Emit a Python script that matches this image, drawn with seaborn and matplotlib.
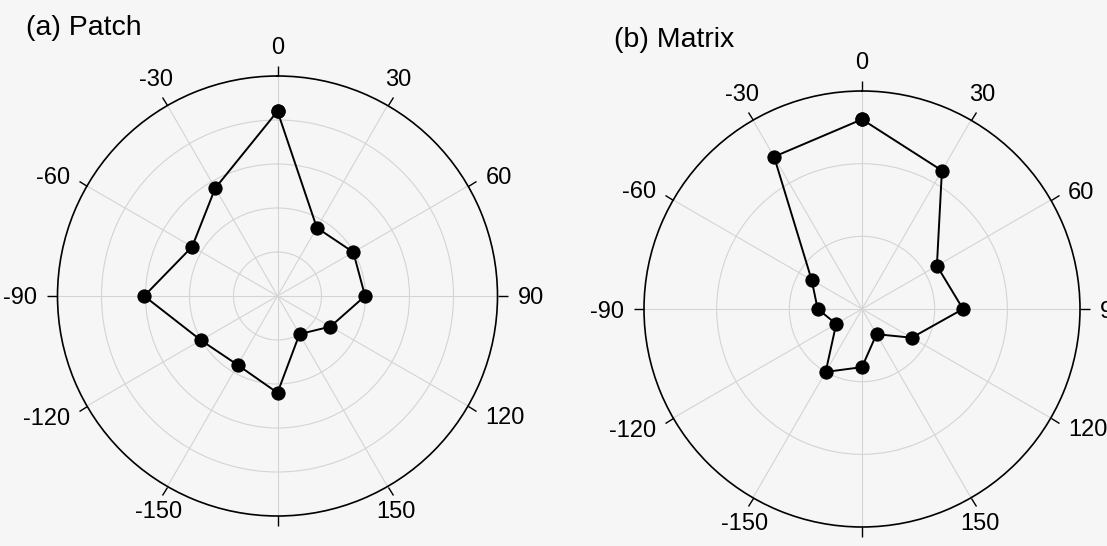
import numpy as np
import pandas as pd
import matplotlib
matplotlib.use("Agg")
import matplotlib.pyplot as plt
import seaborn as sns

# ---- data ----
angles_deg = [0, 30, 60, 90, 120, 150, 180, -150, -120, -90, -60, -30]
tick_labels = ["0", "30", "60", "90", "120", "150", "", "-150", "-120", "-90", "-60", "-30"]
patch_values = [4.2, 1.79, 1.99, 1.99, 1.39, 1.0, 2.2, 1.81, 2.01, 3.03, 2.24, 2.83]
matrix_values = [2.61, 2.20, 1.19, 1.39, 0.79, 0.40, 0.80, 1.00, 0.41, 0.61, 0.80, 2.42]
patch_rmax, patch_rgrid = 5, [1, 2, 3, 4]
matrix_rmax, matrix_rgrid = 3, [1, 2]
titles = ["(a) Patch", "(b) Matrix"]

sns.set_theme(style="white")
plt.rcParams["font.family"] = ["Liberation Sans", "DejaVu Sans"]

BG = "#f6f6f6"
DPI = 100
fig = plt.figure(figsize=(11.07, 5.46), dpi=DPI, facecolor=BG)

W, H = 1107, 546
def axes_rect(cx, cy, R):
    return [(cx - R) / W, (H - cy - R) / H, 2 * R / W, 2 * R / H]

rects = [axes_rect(277.5, 296, 220), axes_rect(862, 309, 218)]
datasets = [(patch_values, patch_rmax, patch_rgrid), (matrix_values, matrix_rmax, matrix_rgrid)]
title_pos = [(26, 35), (614, 47)]

theta_pos = np.deg2rad(np.mod(angles_deg, 360))
px2pt = 72.0 / DPI

for rect, (vals, rmax, rgrid), title, (tx, ty) in zip(rects, datasets, titles, title_pos):
    ax = fig.add_axes(rect, projection="polar")
    ax.set_facecolor(BG)
    ax.set_theta_zero_location("N")
    ax.set_theta_direction(-1)
    th = np.append(theta_pos, theta_pos[0])
    rr = vals + [vals[0]]
    df = pd.DataFrame({"theta": th, "r": rr})
    sns.lineplot(data=df, x="theta", y="r", ax=ax, sort=False, estimator=None,
                 color="black", linewidth=1.4, marker="o", markersize=9.5,
                 markeredgecolor="black", markerfacecolor="black")
    ax.set_xlim(0, 2 * np.pi)
    ax.set_xlabel("")
    ax.set_ylabel("")
    ax.set_ylim(0, rmax)
    ax.set_yticks(rgrid)
    ax.set_yticklabels([])
    ax.set_xticks(theta_pos)
    ax.set_xticklabels([])
    ax.grid(True, color="#d4d4d4", linewidth=0.8)
    ax.spines["polar"].set_color("black")
    ax.spines["polar"].set_linewidth(1.2)
    ax.tick_params(axis="x", direction="out", length=7, width=1, color="black",
                   bottom=False, top=True)
    ax.tick_params(axis="y", left=False, right=False)
    for t, lab in zip(theta_pos, tick_labels):
        if not lab:
            continue
        ux, uy = np.sin(t), np.cos(t)  # screen direction (y up)
        ha = "center" if abs(ux) < 0.6 else ("left" if ux > 0 else "right")
        if abs(uy) < 0.6:
            va = "center_baseline"
            d = 20
        elif uy > 0:
            va = "baseline"
            d = 22
        else:
            va = "top"
            d = 17
        off = (d * ux * px2pt, d * uy * px2pt)
        ax.annotate(lab, xy=(t, rmax), xytext=off, textcoords="offset points",
                    fontsize=17, ha=ha, va=va, color="black", annotation_clip=False)
    fig.text(tx / W, 1 - ty / H, title, fontsize=20.5, ha="left", va="baseline", color="black")

fig.savefig("out.png", dpi=DPI, facecolor=BG)
